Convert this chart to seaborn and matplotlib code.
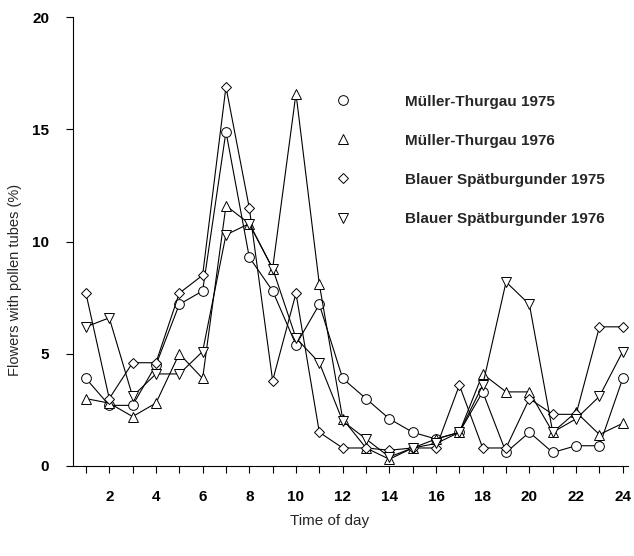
import matplotlib
matplotlib.use("Agg")
import matplotlib.pyplot as plt
import seaborn as sns
import pandas as pd
from matplotlib.lines import Line2D

hours = list(range(1, 25))
series_names = ["Müller-Thurgau 1975", "Müller-Thurgau 1976",
                "Blauer Spätburgunder 1975", "Blauer Spätburgunder 1976"]
mt_1975 = [3.9, 2.7, 2.7, 4.5, 7.2, 7.8, 14.9, 9.3, 7.8, 5.4, 7.2, 3.9,
           3.0, 2.1, 1.5, 1.2, 1.5, 3.3, 0.6, 1.5, 0.6, 0.9, 0.9, 3.9]
mt_1976 = [3.0, 2.8, 2.2, 2.8, 5.0, 3.9, 11.6, 10.8, 8.8, 16.6, 8.1, 2.1,
           0.8, 0.3, 0.8, 1.2, 1.5, 4.1, 3.3, 3.3, 1.5, 2.4, 1.4, 1.9]
bs_1975 = [7.7, 3.0, 4.6, 4.6, 7.7, 8.5, 16.9, 11.5, 3.8, 7.7, 1.5, 0.8,
           0.8, 0.7, 0.8, 0.8, 3.6, 0.8, 0.8, 3.0, 2.3, 2.3, 6.2, 6.2]
bs_1976 = [6.2, 6.6, 3.1, 4.1, 4.1, 5.1, 10.3, 10.8, 8.8, 5.7, 4.6, 2.0,
           1.2, 0.4, 0.8, 1.0, 1.5, 3.6, 8.2, 7.2, 1.5, 2.1, 3.1, 5.1]
x_ticks = list(range(1, 25))
x_labels = [str(h) if h % 2 == 0 else "" for h in x_ticks]
y_ticks = [0, 5, 10, 15, 20]

values = [mt_1975, mt_1976, bs_1975, bs_1976]
markers = ["o", "^", "D", "v"]
msizes = [7, 7, 5.5, 7]

sns.set_style("ticks")
plt.rcParams["font.family"] = ["Liberation Sans", "DejaVu Sans"]

fig = plt.figure(figsize=(6.34, 5.56), dpi=100)
ax = fig.add_axes([0.115, 0.162, 0.875, 0.807])

for name, vals, mk, ms in zip(series_names, values, markers, msizes):
    df = pd.DataFrame({"hour": hours, "value": vals})
    sns.lineplot(data=df, x="hour", y="value", ax=ax, color="black",
                 linewidth=0.8, marker=mk, markersize=ms,
                 markerfacecolor="white", markeredgecolor="black",
                 markeredgewidth=0.7)

ax.set_xlim(0.443, 24.21)
ax.set_ylim(0, 20)
ax.set_xticks(x_ticks)
ax.set_xticklabels(x_labels)
ax.set_yticks(y_ticks)
ax.tick_params(axis="both", direction="out", length=5, width=0.8,
               labelsize=11, colors="black")
ax.tick_params(axis="x", pad=12)
ax.tick_params(axis="y", pad=12)
for lab in ax.get_xticklabels() + ax.get_yticklabels():
    lab.set_fontweight("bold")
ax.set_xlabel("Time of day", fontsize=11)
ax.xaxis.set_label_coords(0.463, -0.107)
ax.set_ylabel("Flowers with pollen tubes (%)", fontsize=10.5)
ax.yaxis.set_label_coords(-0.092, 0.414)
sns.despine(ax=ax)
for sp in ["left", "bottom"]:
    ax.spines[sp].set_linewidth(0.8)
    ax.spines[sp].set_color("black")

handles = [Line2D([], [], linestyle="none", marker=mk, markersize=ms,
                  markerfacecolor="white", markeredgecolor="black",
                  markeredgewidth=0.7)
           for mk, ms in zip(markers, msizes)]
leg = ax.legend(handles, series_names, loc="upper left",
                bbox_to_anchor=(0.434, 0.858), frameon=False,
                handletextpad=3.1, labelspacing=1.64, fontsize=11)
for t in leg.get_texts():
    t.set_fontweight("bold")

fig.savefig("out.png", dpi=100)
